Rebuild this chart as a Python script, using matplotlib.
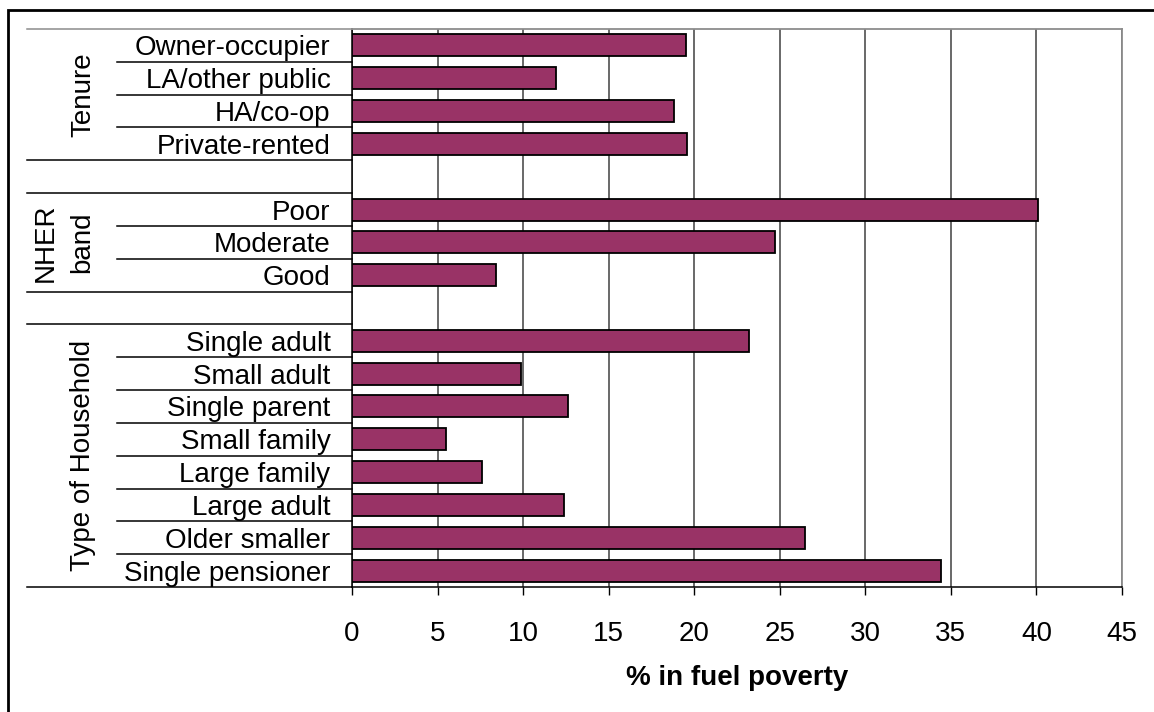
import matplotlib
matplotlib.use("Agg")
import matplotlib.pyplot as plt
from matplotlib.patches import Rectangle
import matplotlib.transforms as mtransforms

plt.rcParams['font.family'] = ['Liberation Sans', 'DejaVu Sans']

# Categories grouped by tenure, energy rating band and household type
tenure_labels = ["Owner-occupier", "LA/other public", "HA/co-op", "Private-rented"]
tenure_values = [19.5, 11.9, 18.8, 19.6]

nher_labels = ["Poor", "Moderate", "Good"]
nher_values = [40.1, 24.7, 8.4]

household_labels = ["Single adult", "Small adult", "Single parent", "Small family",
                    "Large family", "Large adult", "Older smaller", "Single pensioner"]
household_values = [23.2, 9.9, 12.6, 5.5, 7.6, 12.4, 26.5, 34.4]

group_names = ["Tenure", "NHER\nband", "Type of Household"]
x_ticks = [0, 5, 10, 15, 20, 25, 30, 35, 40, 45]
x_label = "% in fuel poverty"

BAR_COLOR = "#993366"
FS = 20

# Build the row layout: each group followed by an empty spacer row
groups = [(tenure_labels, tenure_values),
          (nher_labels, nher_values),
          (household_labels, household_values)]
row_labels, row_values, group_spans = [], [], []
for gi, (labs, vals) in enumerate(groups):
    start = len(row_labels)
    row_labels.extend(labs)
    row_values.extend(vals)
    group_spans.append((start, len(row_labels) - 1))
    if gi < len(groups) - 1:
        row_labels.append("")
        row_values.append(None)
n_rows = len(row_labels)

fig = plt.figure(figsize=(11.54, 7.12), dpi=100)
ax = fig.add_axes([352 / 1154, 1 - 587 / 712, 770 / 1154, (587 - 29) / 712])

ys = [i for i, v in enumerate(row_values) if v is not None]
vs = [v for v in row_values if v is not None]
ax.barh(ys, vs, height=0.67, color=BAR_COLOR, edgecolor="black", linewidth=1.3, zorder=3)

ax.set_xlim(0, 45)
ax.set_ylim(n_rows - 0.5, -0.5)
ax.set_xticks(x_ticks)
ax.set_xticklabels([str(t) for t in x_ticks], fontsize=FS)
ax.set_yticks(range(n_rows))
ax.set_yticklabels(row_labels, fontsize=FS)
ax.tick_params(axis="y", length=0, pad=15.5)
ax.tick_params(axis="x", direction="out", length=6, width=1, color="black", pad=18.5)
ax.set_xlabel(x_label, fontsize=FS, fontweight="bold", labelpad=13)

ax.grid(axis="x", color="#404040", linewidth=1.1, zorder=0)
ax.set_axisbelow(True)
for side in ("top", "right"):
    ax.spines[side].set_color("#8c8c8c")
    ax.spines[side].set_linewidth(1.3)
ax.spines["left"].set_color("black")
ax.spines["bottom"].set_color("black")
ax.spines["left"].set_linewidth(1.1)
ax.spines["bottom"].set_linewidth(1.1)

# Separator lines in the category label area
trans = mtransforms.blended_transform_factory(ax.transAxes, ax.transData)
x_full = (27 - 352) / 770
x_part = (117 - 352) / 770
full_bounds = {-0.5, n_rows - 0.5}
for (s, e) in group_spans:
    full_bounds.add(s - 0.5)
    full_bounds.add(e + 0.5)
for b in range(n_rows + 1):
    yb = b - 0.5
    if yb in full_bounds:
        x0 = x_full
        col = "#8c8c8c" if yb == -0.5 else "black"
    else:
        x0 = x_part
        col = "black"
    ax.plot([x0, 0], [yb, yb], transform=trans, color=col, linewidth=1.1,
            clip_on=False, zorder=4)

# Rotated group titles
x_group = (83 - 352) / 770
for name, (s, e) in zip(group_names, group_spans):
    xg = x_group if "\n" not in name else (64 - 352) / 770
    ax.text(xg, (s + e) / 2, name, transform=trans, rotation=90, fontsize=FS,
            ha="center", va="center", linespacing=1.5)

# Outer frame
fig.patches.append(Rectangle((8 / 1154, -0.2), 1.5, 1.2 - 10 / 712, transform=fig.transFigure,
                             fill=False, edgecolor="black", linewidth=2.0))

fig.savefig("out.png", dpi=100)
